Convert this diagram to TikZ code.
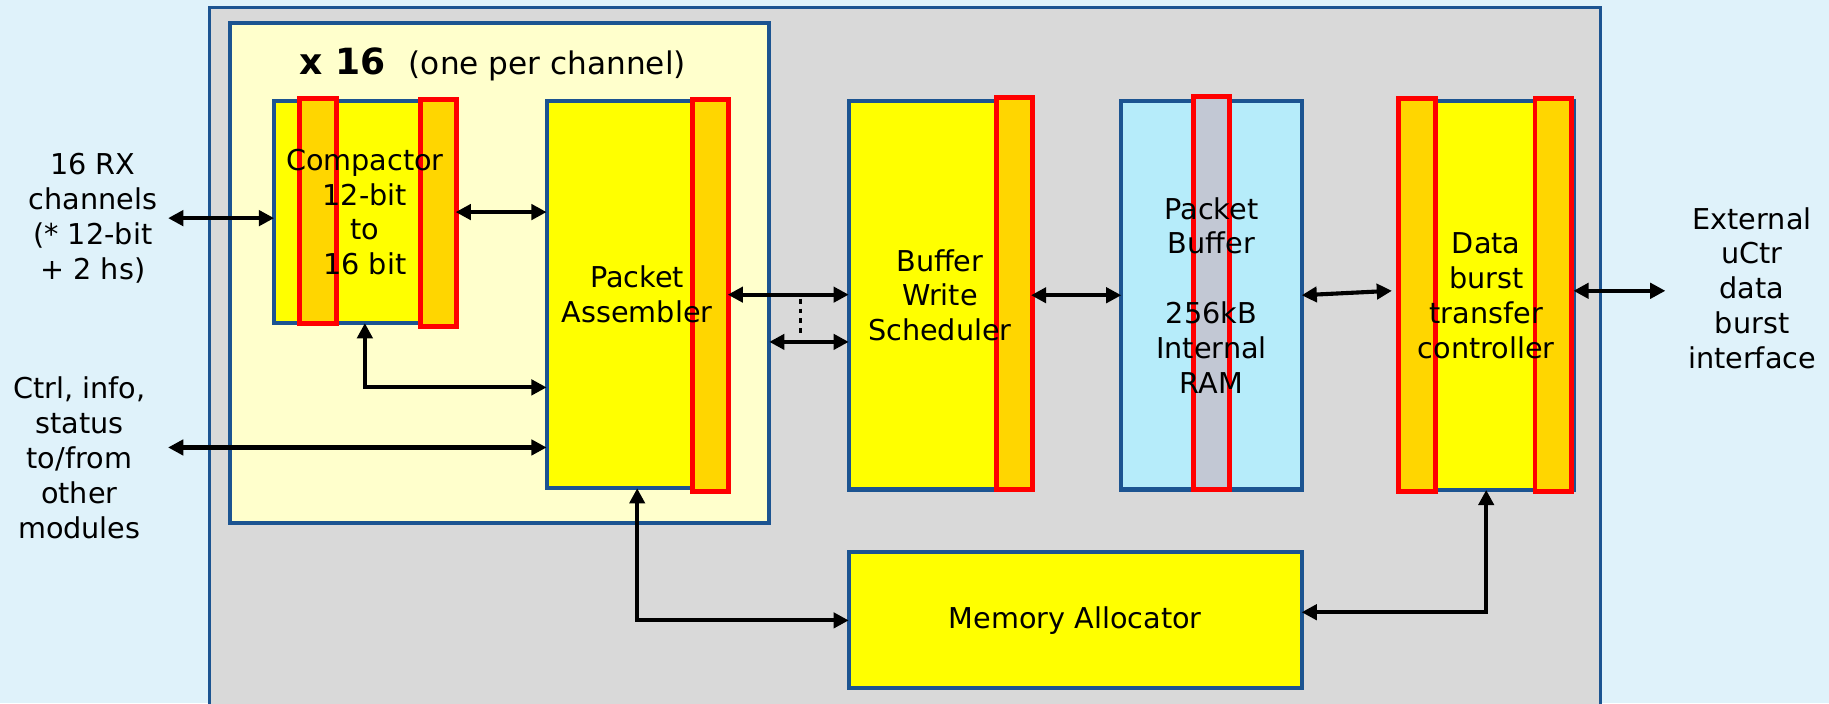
\documentclass[tikz,border=0pt]{standalone}
\usepackage{fontspec}
\setmainfont{DejaVu Sans}
\definecolor{Micolor1}{RGB}{28,84,145}
\definecolor{Micolor2}{RGB}{223,242,250}
\definecolor{Micolor3}{RGB}{217,217,217}
\definecolor{Micolor4}{RGB}{255,255,204}
\definecolor{Micolor5}{RGB}{255,255,0}
\definecolor{Micolor6}{RGB}{255,214,0}
\definecolor{Micolor7}{RGB}{182,236,250}
\definecolor{Micolor8}{RGB}{194,200,212}
\usetikzlibrary{calc, positioning, arrows.meta, backgrounds}

\begin{document}
\begin{tikzpicture}[
    bloque/.style={
        rectangle, anchor=north west, inner sep=0pt, outer sep=0pt,
        align=center, font=\fontsize{7}{8.5}\selectfont},
    cuerpo/.style={draw=Micolor1, line width=1pt, fill=Micolor5},
    franja/.style={draw=red, line width=1.2pt, fill=Micolor6},
    etiq/.style={align=center, font=\fontsize{7}{8.5}\selectfont},
    arr/.style={{Triangle[length=1.3mm, width=1.3mm]}-{Triangle[length=1.3mm, width=1.3mm]},
        line width=1pt, color=black},
    punteado/.style={line width=0.8pt, dash pattern=on 1.2pt off 1.2pt}]
  \useasboundingbox (0,0) rectangle (15.68,-6.03);
  % Nodos principales
  \node[bloque, minimum width=1.556cm, minimum height=1.904cm] (cmp) at (2.35,-0.866)
    {Compactor\\12-bit\\to\\16 bit};
  \node[bloque, minimum width=1.553cm, minimum height=3.32cm,
        right=0.78cm of cmp.north east, anchor=north west] (pa) {Packet\\Assembler};
  \node[bloque, minimum width=1.563cm, minimum height=3.33cm,
        right=1.037cm of pa.north east, anchor=north west] (bws) {Buffer\\Write\\Scheduler};
  \node[bloque, minimum width=1.546cm, minimum height=3.33cm,
        right=0.774cm of bws.north east, anchor=north west] (pb)
    {Packet\\Buffer\\[8.5pt]256kB\\Internal\\RAM};
  \node[bloque, minimum width=1.496cm, minimum height=3.334cm,
        right=0.834cm of pb.north east, anchor=north west] (dbtc)
    {Data\\burst\\transfer\\controller};
  \node[bloque, minimum width=3.883cm, minimum height=1.165cm,
        below=0.54cm of bws.south west, anchor=north west] (ma) {Memory Allocator};
  % Etiquetas exteriores
  \node[etiq] (rx) at (0.796,-1.87) {16 RX\\channels\\(* 12-bit\\+ 2 hs)};
  \node[etiq] (ctl) at (0.68,-3.925) {Ctrl, info,\\status\\to/from\\other\\modules};
  \node[etiq] (ext) at (15.02,-2.47) {External\\uCtr\\data\\burst\\interface};
  \node[anchor=base west, inner sep=0pt] (tit) at (2.56,-0.64)
    {{\fontsize{8.8}{10}\selectfont\bfseries x 16}\hspace{2mm}%
     {\fontsize{7.6}{9}\selectfont(one per channel)}};
  % Fondos, cuerpos y franjas
  \begin{pgfonlayer}{background}
    \fill[Micolor2] (0,0) rectangle (15.68,-6.03);
    \node[bloque, draw=Micolor1, line width=0.8pt, fill=Micolor3,
          minimum width=11.925cm, minimum height=6.0cm] (sys) at (1.795,-0.063) {};
    \node[bloque, draw=Micolor1, line width=1pt, fill=Micolor4,
          minimum width=4.627cm, minimum height=4.28cm] (chan) at (1.968,-0.20) {};
    \foreach \b in {cmp, pa, bws, dbtc, ma}
      \draw[cuerpo] (\b.south west) rectangle (\b.north east);
    \draw[cuerpo, fill=Micolor7] (pb.south west) rectangle (pb.north east);
    \draw[franja] ([xshift=2.2mm, yshift=0.25mm]cmp.north west) rectangle ([xshift=5.35mm]cmp.south west);
    \draw[franja] ([xshift=-3.0mm, yshift=0.1mm]cmp.north east) rectangle ([xshift=0.1mm, yshift=-0.3mm]cmp.south east);
    \draw[franja] ([xshift=-3.05mm, yshift=0.15mm]pa.north east) rectangle ([xshift=0.05mm, yshift=-0.25mm]pa.south east);
    \draw[franja] ([xshift=-3.0mm, yshift=0.3mm]bws.north east) rectangle ([xshift=0.1mm]bws.south east);
    \draw[franja, fill=Micolor8] ([xshift=-1.55mm, yshift=0.35mm]pb.north) rectangle ([xshift=1.55mm]pb.south);
    \draw[franja] ([yshift=0.2mm]dbtc.north west) rectangle ([xshift=3.1mm, yshift=-0.1mm]dbtc.south west);
    \draw[franja] ([xshift=-3.3mm, yshift=0.2mm]dbtc.north east) rectangle ([xshift=-0.2mm, yshift=-0.1mm]dbtc.south east);
  \end{pgfonlayer}
  % Flechas
  \coordinate (ctlpa) at ([yshift=3.5mm]pa.south west);
  \coordinate (bwsb) at ([yshift=-4mm]bws.west);
  \coordinate (dext) at ([yshift=0.4mm]dbtc.east);
  \draw[arr] ([xshift=-0.3mm]rx.east) -- (rx.east -| cmp.west);
  \draw[arr] (cmp.east) -- (cmp.east -| pa.west);
  \draw[arr] (cmp.south) |- ([yshift=8.65mm]pa.south west);
  \draw[arr] ([xshift=0.7mm]ctl.east |- ctlpa) -- (ctlpa);
  \draw[arr] (pa.east) -- (pa.east -| bws.west);
  \draw[arr] (bwsb -| chan.east) -- (bwsb);
  \draw[punteado] ([xshift=2.65mm, yshift=-0.35mm]pa.east -| chan.east)
    -- ([xshift=2.65mm, yshift=0.35mm]bwsb -| chan.east);
  \draw[arr] (bws.east) -- (pb.west);
  \draw[arr] (pb.east) -- ([yshift=0.4mm, xshift=-0.6mm]dbtc.west);
  \draw[arr] (dext) -- ([xshift=-0.7mm]dext -| ext.west);
  \draw[arr] (pa.south) |- (ma.west);
  \draw[arr] (dbtc.south) |- ([yshift=0.7mm]ma.east);
\end{tikzpicture}
\end{document}
